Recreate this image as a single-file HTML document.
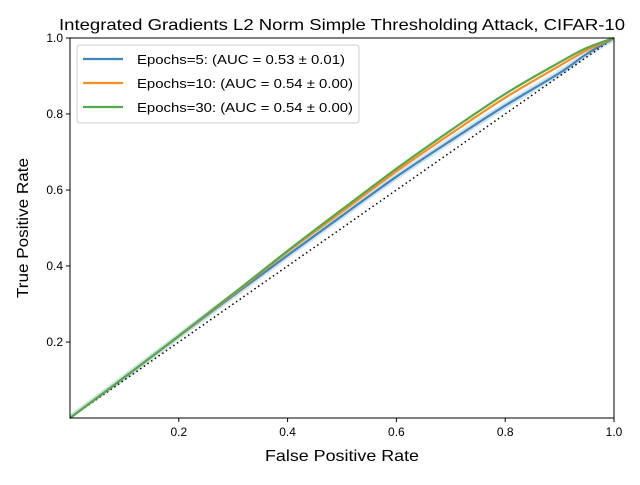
<!DOCTYPE html>
<html><head><meta charset="utf-8"><style>
body{margin:0;background:#fff;font-family:"Liberation Sans",sans-serif}
svg text{font-family:"Liberation Sans",sans-serif}
</style></head><body>
<svg id="chart" width="640" height="480">
<rect width="640" height="480" fill="#fff"/>
<text x="342" y="30" text-anchor="middle" font-size="16" textLength="566" lengthAdjust="spacingAndGlyphs">Integrated Gradients L2 Norm Simple Thresholding Attack, CIFAR-10</text>
<g id="plot"></g>
<text x="342" y="461" text-anchor="middle" font-size="16" textLength="154" lengthAdjust="spacingAndGlyphs">False Positive Rate</text>
<text transform="translate(28,228) rotate(-90)" text-anchor="middle" font-size="16" textLength="140" lengthAdjust="spacingAndGlyphs">True Positive Rate</text>
</svg>
<script>
const fprs=[0,0.1,0.2,0.3,0.4,0.5,0.6,0.7,0.8,0.9,0.95,1];
const tpr5=[0,0.107,0.215,0.322,0.428,0.532,0.635,0.73,0.822,0.908,0.958,1];
const tpr10=[0,0.107,0.215,0.325,0.437,0.543,0.649,0.748,0.843,0.927,0.968,1];
const tpr30=[0,0.107,0.216,0.327,0.44,0.549,0.656,0.757,0.853,0.936,0.974,1];
const band5=0.01;
const seriesNames=["Epochs=5: (AUC = 0.53 ± 0.01)","Epochs=10: (AUC = 0.54 ± 0.00)","Epochs=30: (AUC = 0.54 ± 0.00)"];
const xTicks=[0.2,0.4,0.6,0.8,1.0];
const yTicks=[0.2,0.4,0.6,0.8,1.0];
const X0=70,X1=614,Y0=418,Y1=38;
const sx=v=>X0+v*(X1-X0), sy=v=>Y0-v*(Y0-Y1);
const NS="http://www.w3.org/2000/svg";
const g=document.getElementById('plot');
function mk(t,a,p){const e=document.createElementNS(NS,t);for(const k in a)e.setAttribute(k,a[k]);(p||g).appendChild(e);return e;}
function pts(ys,off,xs){return ys.map((y,i)=>[sx(xs[i]),sy(Math.min(1,Math.max(0,y+off)))]);}
function smooth(P,start){let d=(start?'M':'L')+P[0][0].toFixed(1)+','+P[0][1].toFixed(1);
 for(let i=0;i<P.length-1;i++){const p0=P[Math.max(0,i-1)],p1=P[i],p2=P[i+1],p3=P[Math.min(P.length-1,i+2)];
  const c1=[p1[0]+(p2[0]-p0[0])/6,p1[1]+(p2[1]-p0[1])/6],c2=[p2[0]-(p3[0]-p1[0])/6,p2[1]-(p3[1]-p1[1])/6];
  d+='C'+c1.map(v=>v.toFixed(1)).join(',')+' '+c2.map(v=>v.toFixed(1)).join(',')+' '+p2.map(v=>v.toFixed(1)).join(',');}
 return d;}
const up=smooth(pts(tpr5,band5,fprs),true);
const dnP=pts(tpr5,-band5,fprs).reverse();
const band=mk('path',{d:up+smooth(dnP,false)+'Z',fill:'#1f77b4','fill-opacity':0.2,stroke:'none'});


const diag=mk('line',{x1:sx(0),y1:sy(0),x2:sx(1),y2:sy(1),stroke:'#000','stroke-width':1.5,'stroke-dasharray':'1.5,3'});


const cols=['#3d85bc','#ff8c1e','#54a94b'];
[tpr5,tpr10,tpr30].forEach((s,k)=>{
 const p=mk('path',{d:smooth(pts(s,0,fprs),true),fill:'none',stroke:cols[k],'stroke-width':2.2,'stroke-linejoin':'round'});
 
 
});
mk('rect',{x:X0,y:Y1,width:X1-X0,height:Y0-Y1,fill:'none',stroke:'#000','stroke-width':1});
xTicks.forEach(v=>{mk('line',{x1:sx(v),x2:sx(v),y1:Y0,y2:Y0+4,stroke:'#000'});
 const t=mk('text',{x:sx(v),y:Y0+18,'text-anchor':'middle','font-size':12});t.textContent=v.toFixed(1);
 
 });
yTicks.forEach(v=>{mk('line',{x1:X0-4,x2:X0,y1:sy(v),y2:sy(v),stroke:'#000'});
 const t=mk('text',{x:X0-7,y:sy(v)+4,'text-anchor':'end','font-size':12});t.textContent=v.toFixed(1);
 
 });
const lg=mk('g',{});


mk('rect',{x:77,y:45,width:282,height:78,rx:3,fill:'#fff','fill-opacity':0.8,stroke:'#ccc'},lg);
seriesNames.forEach((n,k)=>{const y=59+k*24;
 mk('line',{x1:83,x2:123,y1:y,y2:y,stroke:cols[k],'stroke-width':2.2},lg);
 const t=mk('text',{x:137,y:y+5,'font-size':13,textLength:k?216:208,lengthAdjust:'spacingAndGlyphs'},lg);t.textContent=n;
 
 });
</script>
</body></html>
